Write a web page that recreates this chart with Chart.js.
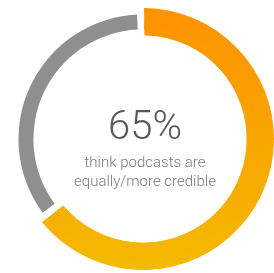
<!DOCTYPE html>
<html>
<head>
<meta charset="utf-8">
<script src="https://cdn.jsdelivr.net/npm/chart.js@4/dist/chart.umd.min.js"></script>
<style>
    body { margin: 0; background: #fff; }
    #wrap { position: relative; width: 274px; height: 273px; }
    #big {
        position: absolute; left: 45px; top: 106px; width: 200px;
        text-align: center; font-family: Roboto, sans-serif; font-weight: 300;
        font-size: 40px; line-height: 40px; color: #595959;
    }
    #sub {
        position: absolute; left: 45px; top: 153px; width: 200px;
        text-align: center; font-family: Roboto, sans-serif; font-weight: 300;
        font-size: 15px; line-height: 19px; color: #7a7a7a;
    }
</style>
</head>
<body>
<div id="wrap">
    <canvas id="credChart" width="274" height="273"></canvas>
    <div id="big">65%</div>
    <div id="sub">think podcasts are<br>equally/more credible</div>
</div>
<script>
const labels = ["Equally/more credible", "Less credible"];
const values = [65, 35];

const grey = "#8f8f8f";

function orangeGradient(chart) {
    const area = chart.chartArea;
    if (!area) {
        return "#f9a500";
    }
    const g = chart.ctx.createLinearGradient(0, area.top, 0, area.bottom);
    g.addColorStop(0, "#fd9200");
    g.addColorStop(1, "#f4b900");
    return g;
}

// the orange slice is a thick band, the grey one a thinner band centred in it.
// ring 0 = outer edge, ring 1 = middle (grey lives here), ring 2 = inner edge
function sliceColor(context) {
    if (context.dataIndex === 0) {
        return orangeGradient(context.chart);
    }
    return context.datasetIndex === 1 ? grey : "rgba(0,0,0,0)";
}

function sliceBorder(context) {
    return context.dataIndex === 0 ? 1 : 0;
}

function ring(weight) {
    return {
        data: values,
        weight: weight,
        backgroundColor: sliceColor,
        borderColor: sliceColor,
        borderWidth: sliceBorder
    };
}

const config = {
    type: 'doughnut',
    data: {
        labels: labels,
        datasets: [ring(6), ring(15), ring(5.5)]
    },
    options: {
        responsive: false,
        animation: false,
        cutout: '79.4%',
        spacing: 4.6,
        rotation: -1.5,
        layout: {
            padding: { left: 12, top: 8, right: 0, bottom: 3 }
        },
        plugins: {
            legend: { display: false },
            tooltip: { enabled: false }
        }
    }
};

const credChart = new Chart(document.getElementById('credChart'), config);
</script>
</body>
</html>
